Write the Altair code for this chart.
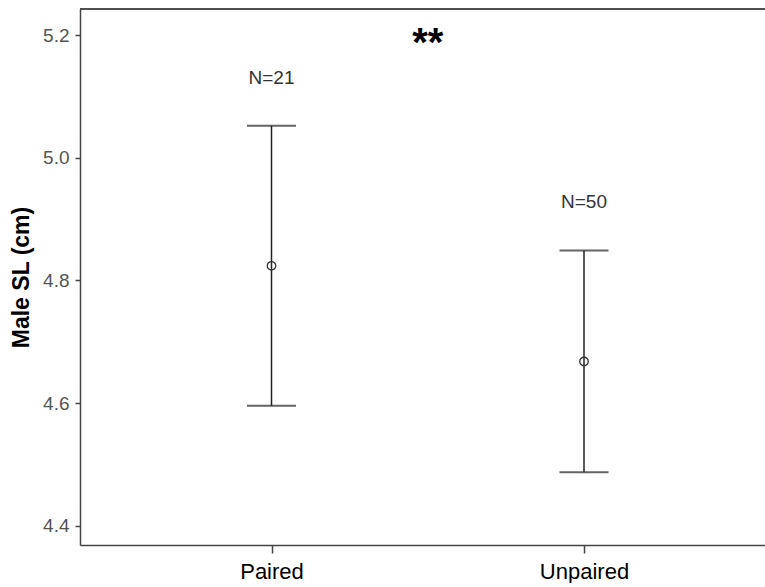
import altair as alt
import pandas as pd

# Group means with their error-bar limits (Male standard length, cm)
groups = ["Paired", "Unpaired"]
group_pos = [0, 1]
means = [4.824, 4.668]
lower = [4.596, 4.4875]
upper = [5.052, 4.849]
n_labels = ["N=21", "N=50"]

# Significance marker placed between the two groups
sig_pos = [0.5]
sig_y = [5.2]
sig_text = ["**"]

y_ticks = [4.4, 4.6, 4.8, 5.0, 5.2]

df = pd.DataFrame({
    "group": groups, "pos": group_pos, "mean": means,
    "lo": lower, "hi": upper, "n": n_labels,
})
sig_df = pd.DataFrame({"pos": sig_pos, "y": sig_y, "t": sig_text})

W, H = 685, 536
FONT = "Liberation Sans"
LINE = "#444444"

x_scale = alt.Scale(domain=[-0.6128, 1.5792], nice=False, zero=False)
y_scale = alt.Scale(domain=[4.369, 5.2424], nice=False, zero=False)

label_expr = " : ".join(
    f"datum.value == {p} ? '{g}'" for p, g in zip(group_pos, groups)
) + " : ''"

x_axis = alt.Axis(
    values=group_pos, labelExpr=label_expr, title=None, grid=False,
    tickSize=8, tickColor=LINE, tickWidth=1.5,
    domainColor=LINE, domainWidth=1.5,
    labelFontSize=22, labelColor="#000000", labelPadding=8, labelFont=FONT,
)
y_axis = alt.Axis(
    values=y_ticks, format=".1f", title="Male SL (cm)", grid=False,
    tickSize=5, tickColor=LINE, tickWidth=1.5,
    domainColor=LINE, domainWidth=1.5,
    labelFontSize=19, labelColor="#555555", labelPadding=6, labelFont=FONT,
    titleFontSize=23, titleFontWeight="bold", titleColor="#000000",
    titleFont=FONT, titlePadding=9,
)

base = alt.Chart(df).encode(x=alt.X("pos:Q", scale=x_scale, axis=x_axis))

whisker = base.mark_rule(color="#222222", strokeWidth=1.5).encode(
    y=alt.Y("lo:Q", scale=y_scale, axis=y_axis), y2="hi:Q"
)
cap_hi = base.mark_tick(color="#222222", thickness=2, size=49, orient="horizontal").encode(
    y=alt.Y("hi:Q", scale=y_scale)
)
cap_lo = base.mark_tick(color="#222222", thickness=2, size=49, orient="horizontal").encode(
    y=alt.Y("lo:Q", scale=y_scale)
)
mean_pt = base.mark_point(
    shape="circle", size=72, filled=False, color="#333333", strokeWidth=1.3, opacity=1
).encode(y=alt.Y("mean:Q", scale=y_scale))
n_text = base.mark_text(
    fontSize=19, color="#333333", dy=-48, font=FONT, baseline="middle"
).encode(y=alt.Y("hi:Q", scale=y_scale), text="n:N")

star = alt.Chart(sig_df).mark_text(
    fontSize=40, fontWeight="bold", color="#000000", font=FONT,
    baseline="alphabetic", dy=21,
).encode(
    x=alt.X("pos:Q", scale=x_scale),
    y=alt.Y("y:Q", scale=y_scale),
    text="t:N",
)

top_frame = alt.Chart(df).mark_rule(color=LINE, strokeWidth=1.5).encode(
    x=alt.value(0), x2=alt.value(W), y=alt.value(0)
)

chart = (
    alt.layer(top_frame, whisker, cap_hi, cap_lo, mean_pt, n_text, star)
    .properties(
        width=W, height=H,
        autosize=alt.AutoSizeParams(type="none"),
        padding={"left": 80, "top": 9, "right": 0, "bottom": 38},
        background="white",
    )
    .configure_view(stroke=None)
    .configure(font=FONT)
)

chart.save("out.html", embed_options={"renderer": "svg", "actions": False})
